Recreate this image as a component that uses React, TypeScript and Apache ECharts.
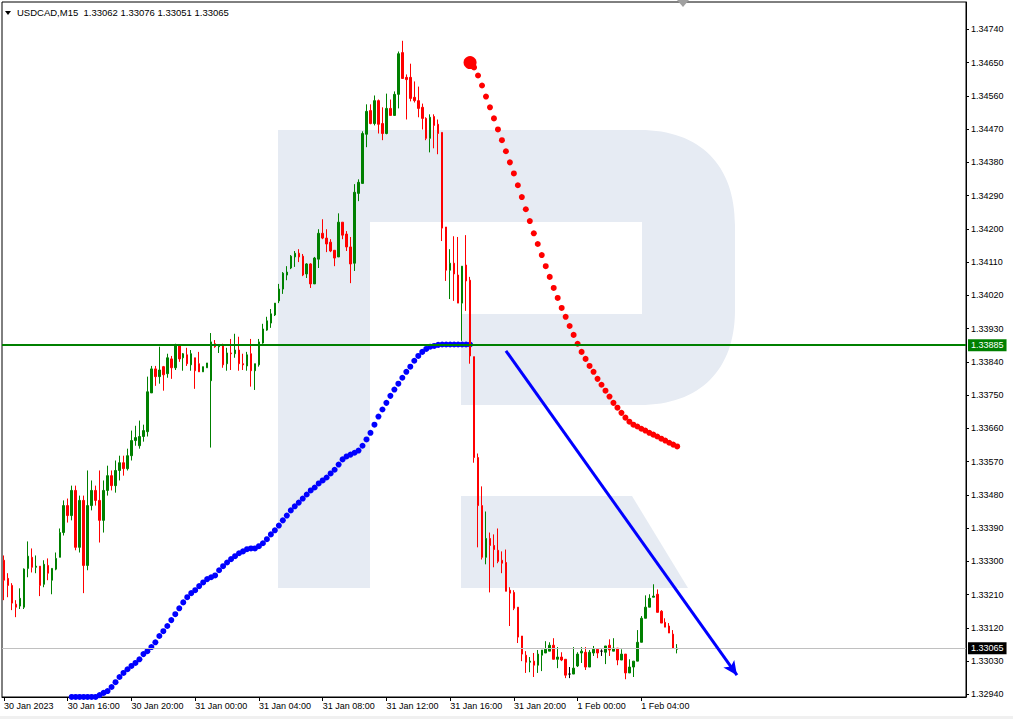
import React, { useEffect, useRef } from 'react';
import * as echarts from 'echarts';

const FONT = '"Liberation Sans", Arial, sans-serif';

const titleText = 'USDCAD,M15  1.33062 1.33076 1.33051 1.33065';

const xTickLabels = [
  '30 Jan 2023', '30 Jan 16:00', '30 Jan 20:00', '31 Jan 00:00', '31 Jan 04:00',
  '31 Jan 08:00', '31 Jan 12:00', '31 Jan 16:00', '31 Jan 20:00', '1 Feb 00:00', '1 Feb 04:00',
];
const barsPerLabel = 16;
const futureSlots = 72;

const yTicks = [
  1.3294, 1.3303, 1.3312, 1.3321, 1.333, 1.3339, 1.3348, 1.3357, 1.3366, 1.3375, 1.3384,
  1.3393, 1.3402, 1.3411, 1.342, 1.3429, 1.3438, 1.3447, 1.3456, 1.3465, 1.3474,
];
const yMin = 1.329329;
const yMax = 1.34814;

// [open, close, low, high]
const candles = [
  [1.33303, 1.33249, 1.33195, 1.33316], [1.33254, 1.33235, 1.33203, 1.33268], [1.33235, 1.33187, 1.33168, 1.33241],
  [1.33184, 1.33176, 1.33149, 1.33195], [1.33179, 1.332, 1.33171, 1.33227], [1.33176, 1.33279, 1.33171, 1.33281],
  [1.33281, 1.33314, 1.33257, 1.33354], [1.33311, 1.33284, 1.3327, 1.33335], [1.33284, 1.33287, 1.33268, 1.33316],
  [1.33287, 1.33235, 1.33206, 1.33287], [1.33238, 1.33292, 1.3323, 1.33303], [1.33289, 1.33268, 1.33249, 1.33308],
  [1.33249, 1.33281, 1.33211, 1.33281], [1.33279, 1.33308, 1.33276, 1.33324], [1.33311, 1.33378, 1.33311, 1.33389],
  [1.33378, 1.33451, 1.3337, 1.33465], [1.33451, 1.33424, 1.33405, 1.3347], [1.33424, 1.33492, 1.33411, 1.33505],
  [1.33492, 1.33338, 1.3333, 1.33505], [1.33338, 1.33465, 1.33324, 1.33478], [1.33465, 1.33289, 1.33214, 1.33478],
  [1.33289, 1.33451, 1.33276, 1.33546], [1.33451, 1.33492, 1.33438, 1.33519], [1.33492, 1.33465, 1.33451, 1.33505],
  [1.33465, 1.33411, 1.33351, 1.33546], [1.33411, 1.33492, 1.33378, 1.33519], [1.33492, 1.33532, 1.33478, 1.33559],
  [1.33532, 1.33505, 1.33492, 1.33546], [1.33505, 1.33546, 1.33486, 1.33573], [1.33546, 1.33567, 1.33519, 1.33586],
  [1.33567, 1.33551, 1.33532, 1.33586], [1.33551, 1.33586, 1.33546, 1.33605], [1.33586, 1.33627, 1.33573, 1.33654],
  [1.33627, 1.33635, 1.33613, 1.33667], [1.33613, 1.33638, 1.33605, 1.33681], [1.33638, 1.33654, 1.33624, 1.3367],
  [1.33651, 1.33759, 1.33638, 1.338], [1.33756, 1.33821, 1.33756, 1.33829], [1.33821, 1.338, 1.33775, 1.33829],
  [1.338, 1.33818, 1.33781, 1.33881], [1.33827, 1.33805, 1.33762, 1.33829], [1.33808, 1.33851, 1.33797, 1.33862],
  [1.33848, 1.33824, 1.33794, 1.33856], [1.33824, 1.33883, 1.33818, 1.33889], [1.33883, 1.33848, 1.3384, 1.33883],
  [1.33851, 1.33862, 1.33816, 1.33864], [1.33859, 1.33835, 1.33829, 1.33878], [1.33832, 1.33862, 1.33816, 1.33872],
  [1.33851, 1.33816, 1.33767, 1.33851], [1.33835, 1.33813, 1.33813, 1.33867], [1.33813, 1.33827, 1.33813, 1.33827],
  [1.33824, 1.33837, 1.33824, 1.33837], [1.33789, 1.33894, 1.33608, 1.33918], [1.33889, 1.33881, 1.33878, 1.33899],
  [1.33881, 1.33883, 1.33864, 1.33883], [1.33883, 1.33832, 1.33824, 1.33889], [1.33835, 1.33864, 1.33816, 1.33878],
  [1.33864, 1.33862, 1.33818, 1.33902], [1.33862, 1.33872, 1.33851, 1.33916], [1.33872, 1.33835, 1.33816, 1.33908],
  [1.33835, 1.33832, 1.33818, 1.33862], [1.33829, 1.33859, 1.33816, 1.33867], [1.33862, 1.33816, 1.33773, 1.33902],
  [1.33816, 1.33835, 1.33764, 1.33835], [1.33832, 1.33894, 1.33827, 1.33902], [1.33891, 1.33929, 1.33889, 1.33943],
  [1.33926, 1.33951, 1.33924, 1.33962], [1.33945, 1.3397, 1.33932, 1.33983], [1.33967, 1.33999, 1.33964, 1.33999],
  [1.34005, 1.34037, 1.33999, 1.34051], [1.34037, 1.3408, 1.34024, 1.34083], [1.34075, 1.34083, 1.34061, 1.34099],
  [1.34094, 1.34126, 1.34091, 1.34129], [1.34124, 1.34134, 1.34097, 1.3414], [1.34134, 1.34124, 1.3411, 1.34145],
  [1.34126, 1.34075, 1.34072, 1.34132], [1.34078, 1.34105, 1.34067, 1.34107], [1.34105, 1.34051, 1.3404, 1.34107],
  [1.34051, 1.34121, 1.34051, 1.34124], [1.34118, 1.34188, 1.34094, 1.34199], [1.34188, 1.34175, 1.34172, 1.34226],
  [1.34175, 1.34159, 1.34137, 1.34199], [1.34164, 1.3414, 1.34137, 1.34172], [1.34142, 1.34121, 1.34099, 1.34142],
  [1.34124, 1.34218, 1.34124, 1.34242], [1.34218, 1.34183, 1.34172, 1.34218], [1.34186, 1.34151, 1.3414, 1.34194],
  [1.34151, 1.34105, 1.34053, 1.34178], [1.34107, 1.34299, 1.34086, 1.34321], [1.34296, 1.34326, 1.34275, 1.34334],
  [1.34323, 1.34458, 1.34323, 1.34464], [1.34456, 1.34518, 1.34421, 1.34537], [1.3452, 1.34485, 1.34483, 1.34537],
  [1.34485, 1.34547, 1.3448, 1.34561], [1.34547, 1.34483, 1.34458, 1.3455], [1.34485, 1.34458, 1.3444, 1.34529],
  [1.34458, 1.34526, 1.34456, 1.34566], [1.34526, 1.34507, 1.34507, 1.3455], [1.34507, 1.34564, 1.34507, 1.34572],
  [1.34564, 1.34674, 1.34526, 1.3468], [1.34677, 1.34607, 1.34607, 1.34709], [1.3461, 1.34604, 1.34496, 1.34618],
  [1.3461, 1.34553, 1.34545, 1.34647], [1.34556, 1.34547, 1.34542, 1.34599], [1.34547, 1.34526, 1.34502, 1.34585],
  [1.34529, 1.34499, 1.34469, 1.34539], [1.34499, 1.34445, 1.3444, 1.34502], [1.34445, 1.34502, 1.34407, 1.3451],
  [1.34504, 1.3448, 1.34418, 1.3451], [1.34483, 1.34458, 1.34402, 1.34496], [1.34461, 1.34202, 1.34167, 1.34461],
  [1.34205, 1.34088, 1.34059, 1.34205], [1.34088, 1.34107, 1.3401, 1.34145], [1.34107, 1.34078, 1.34005, 1.3418],
  [1.34075, 1.33999, 1.33999, 1.34178], [1.33999, 1.34099, 1.33897, 1.34099], [1.34102, 1.34059, 1.33978, 1.34183],
  [1.34061, 1.33856, 1.33835, 1.3407], [1.33854, 1.33581, 1.33567, 1.33854], [1.33581, 1.33451, 1.33338, 1.33592],
  [1.33451, 1.33311, 1.33305, 1.33503], [1.33311, 1.33362, 1.33292, 1.33435], [1.33362, 1.33343, 1.33216, 1.33378],
  [1.33343, 1.33332, 1.33284, 1.33373], [1.3333, 1.333, 1.33295, 1.33389], [1.33303, 1.33295, 1.33268, 1.33327],
  [1.33297, 1.33219, 1.33219, 1.33332], [1.33222, 1.33214, 1.33125, 1.3323], [1.33216, 1.33173, 1.33168, 1.33222],
  [1.33176, 1.33095, 1.33079, 1.33176], [1.33098, 1.33049, 1.3303, 1.33098], [1.33046, 1.33027, 1.32998, 1.33057],
  [1.33027, 1.3303, 1.33, 1.33041], [1.3303, 1.33019, 1.32987, 1.33052], [1.33019, 1.33049, 1.32998, 1.3306],
  [1.33046, 1.3306, 1.33003, 1.3306], [1.33052, 1.33062, 1.33052, 1.33084], [1.33057, 1.33073, 1.33057, 1.33081],
  [1.33073, 1.33035, 1.33035, 1.33092], [1.33035, 1.33041, 1.33011, 1.33068], [1.33041, 1.33033, 1.3303, 1.33054],
  [1.33035, 1.32992, 1.32984, 1.33035], [1.32995, 1.32995, 1.32984, 1.33014], [1.32995, 1.33011, 1.32995, 1.33068],
  [1.33017, 1.33049, 1.33014, 1.33054], [1.33052, 1.33057, 1.33025, 1.33068], [1.33054, 1.33014, 1.33006, 1.33068],
  [1.33014, 1.33054, 1.33014, 1.3306], [1.33052, 1.33062, 1.33044, 1.33071], [1.33062, 1.33052, 1.33038, 1.33062],
  [1.33057, 1.33057, 1.33044, 1.33062], [1.33054, 1.33071, 1.33022, 1.33071], [1.33073, 1.3306, 1.33044, 1.33089],
  [1.33057, 1.33065, 1.33057, 1.33092], [1.33065, 1.33033, 1.33019, 1.33065], [1.33033, 1.33049, 1.33033, 1.33062],
  [1.33049, 1.32998, 1.32981, 1.33049], [1.32998, 1.33014, 1.32998, 1.33035], [1.33014, 1.3303, 1.32987, 1.3303],
  [1.3303, 1.33081, 1.3303, 1.33114], [1.33081, 1.33146, 1.33081, 1.33152], [1.33146, 1.33176, 1.33146, 1.33208],
  [1.33176, 1.332, 1.33176, 1.33211], [1.33203, 1.33206, 1.33203, 1.33238], [1.33211, 1.33162, 1.33162, 1.33224],
  [1.33165, 1.33133, 1.33133, 1.33168], [1.33135, 1.33122, 1.33122, 1.33146], [1.33125, 1.33106, 1.33106, 1.33133],
  [1.33103, 1.33065, 1.33065, 1.33114], [1.33062, 1.33065, 1.33051, 1.33076],
];

const blueStart = 17;
const blueDots = [
  1.32933, 1.32933, 1.32933, 1.32933, 1.32933, 1.32933, 1.32933, 1.32938, 1.32944, 1.32949,
  1.3296, 1.32973, 1.32987, 1.32998, 1.33008, 1.33017, 1.33025, 1.33035, 1.33049, 1.33057,
  1.33068, 1.33081, 1.33098, 1.33111, 1.33125, 1.33141, 1.33157, 1.33173, 1.33189, 1.33203,
  1.33214, 1.33222, 1.33233, 1.33243, 1.33252, 1.33257, 1.33262, 1.33276, 1.33287, 1.33297,
  1.33306, 1.33314, 1.33322, 1.33327, 1.33333, 1.33335, 1.33335, 1.33341, 1.33349, 1.3336,
  1.33373, 1.33384, 1.33397, 1.33411, 1.33424, 1.33438, 1.33449, 1.33459, 1.3347, 1.33481,
  1.33492, 1.335, 1.33511, 1.33519, 1.33527, 1.33538, 1.33548, 1.33562, 1.33576, 1.33584,
  1.33589, 1.33594, 1.336, 1.33613, 1.3363, 1.33648, 1.3367, 1.33692, 1.33711, 1.33729,
  1.33748, 1.33765, 1.33781, 1.33797, 1.33813, 1.33827, 1.33843, 1.33856, 1.33867, 1.33875,
  1.33881, 1.33883, 1.33886, 1.33887, 1.33887, 1.33887, 1.33887, 1.33887, 1.33887, 1.33887,
  1.33887,
];

const redStart = 117;
const redDots = [
  1.3465, 1.34637, 1.34615, 1.34588, 1.34558, 1.34529, 1.34499, 1.34469, 1.3444, 1.3441,
  1.3438, 1.3435, 1.34318, 1.34286, 1.34253, 1.34221, 1.34188, 1.34159, 1.34129, 1.34099,
  1.3407, 1.3404, 1.34013, 1.33986, 1.33962, 1.33937, 1.33913, 1.33889, 1.33867, 1.33848,
  1.33829, 1.33813, 1.33794, 1.33778, 1.33762, 1.33746, 1.33729, 1.33716, 1.33702, 1.33689,
  1.33678, 1.3367, 1.33665, 1.33659, 1.33654, 1.33648, 1.33643, 1.33638, 1.33632, 1.33627,
  1.33621, 1.33616, 1.33611,
];

const levelLine = 1.33885;
const lastPrice = 1.33065;
const arrowStart = [126, 1.3387];
const arrowEnd = [184, 1.32992];

const R_PATH =
  'M278 130 H640 C700 130 735 165 735 225 V310 C735 370 700 405 640 405 H461 V314 H642 V222 H370 V588 H278 Z';

let registered = false;
function ensureShape() {
  if (registered) return;
  echarts.graphic.registerShape('rlogo', echarts.graphic.extendPath(R_PATH, {}) as any);
  registered = true;
}

export default function App() {
  const ref = useRef<HTMLDivElement>(null);

  useEffect(() => {
    if (!ref.current) return;
    ensureShape();
    const chart = echarts.init(ref.current, undefined, { renderer: 'svg' });
    const categories = Array.from({ length: candles.length + futureSlots }, (_, i) => String(i));
    const lastLabelIdx = (xTickLabels.length - 1) * barsPerLabel;
    const showIdx = (i: number) => i % barsPerLabel === 0 && i <= lastLabelIdx;

    const priceLabel = (bg: string, val: number) => ({
      show: true,
      position: 'end',
      distance: 2,
      formatter: () => val.toFixed(5),
      backgroundColor: bg,
      color: '#ffffff',
      padding: [2, 3, 1, 3],
      fontSize: 9,
      fontFamily: FONT,
    });

    const option: any = {
      animation: false,
      backgroundColor: '#ffffff',
      textStyle: { fontFamily: FONT },
      title: {
        text: titleText,
        left: 17,
        top: 7,
        padding: 0,
        textStyle: { fontSize: 9.5, fontWeight: 'normal', color: '#000', fontFamily: FONT },
      },
      grid: {
        left: 2,
        right: 47,
        top: 2,
        bottom: 22,
        show: true,
        borderColor: '#000',
        borderWidth: 1,
        backgroundColor: 'transparent',
        outerBoundsMode: 'none',
      },
      xAxis: {
        type: 'category',
        data: categories,
        boundaryGap: true,
        axisLine: { show: true, lineStyle: { color: '#000', width: 1 } },
        axisTick: {
          show: true,
          alignWithLabel: true,
          length: 4,
          interval: (i: number) => showIdx(i),
          lineStyle: { color: '#000' },
        },
        axisLabel: {
          show: true,
          interval: (i: number) => showIdx(i),
          formatter: (_v: string, i: number) => (showIdx(i) ? xTickLabels[i / barsPerLabel] : ''),
          align: 'left',
          margin: 4,
          fontSize: 9,
          color: '#000',
          fontFamily: FONT,
        },
        splitLine: { show: false },
      },
      yAxis: {
        type: 'value',
        position: 'right',
        min: yMin,
        max: yMax,
        axisLine: { show: true, lineStyle: { color: '#000' } },
        axisTick: { show: true, length: 3, customValues: yTicks, lineStyle: { color: '#000' } },
        axisLabel: {
          customValues: yTicks,
          formatter: (v: number) => v.toFixed(5),
          fontSize: 9,
          color: '#000',
          margin: 5,
          fontFamily: FONT,
        },
        splitLine: { show: false },
      },
      graphic: {
        elements: [
          { type: 'rlogo', x: 0, y: 0, z: -10, silent: true, style: { fill: '#e6ebf3' } },
          {
            type: 'polygon',
            z: -10,
            silent: true,
            shape: { points: [[461, 496], [632, 496], [688, 588], [461, 588]] },
            style: { fill: '#e6ebf3' },
          },
          {
            type: 'polygon',
            silent: true,
            shape: { points: [[5, 11], [11, 11], [8, 15]] },
            style: { fill: '#000' },
          },
          {
            type: 'polygon',
            silent: true,
            shape: { points: [[677, 0], [689, 0], [683, 7]] },
            style: { fill: '#a0a0a0' },
          },
          { type: 'rect', silent: true, shape: { x: 0, y: 716, width: 1013, height: 3 }, style: { fill: '#f0f0f0' } },
        ],
      },
      series: [
        {
          type: 'scatter',
          name: 'blue',
          z: 1,
          clip: false,
          symbol: 'circle',
          symbolSize: 6,
          itemStyle: { color: '#0000ff', opacity: 1 },
          data: blueDots.map((v, k) => [blueStart + k, v]),
        },
        {
          type: 'candlestick',
          name: 'USDCAD',
          z: 2,
          barWidth: 2,
          itemStyle: {
            color: '#008000',
            color0: '#ff0000',
            borderColor: '#008000',
            borderColor0: '#ff0000',
            borderColorDoji: '#000000',
            borderWidth: 1,
          },
          data: candles,
        },
        {
          type: 'scatter',
          name: 'red',
          z: 3,
          clip: false,
          symbol: 'circle',
          symbolSize: (_v: any, p: any) => (p.dataIndex === 0 ? 13 : 6),
          itemStyle: { color: '#ff0000', opacity: 1 },
          data: redDots.map((v, k) => [redStart + k, v]),
          markLine: {
            silent: true,
            animation: false,
            precision: 5,
            symbol: ['none', 'none'],
            data: [
              {
                yAxis: levelLine,
                lineStyle: { color: '#008000', width: 2, type: 'solid' },
                label: priceLabel('#008000', levelLine),
              },
              {
                yAxis: lastPrice,
                lineStyle: { color: '#c0c0c0', width: 1, type: 'solid' },
                label: priceLabel('#000000', lastPrice),
              },
              [
                {
                  coord: arrowStart,
                  symbol: 'none',
                  lineStyle: { color: '#0000ff', width: 3, type: 'solid' },
                  label: { show: false },
                },
                { coord: arrowEnd, symbol: 'arrow', symbolSize: [10, 14] },
              ],
            ],
          },
        },
      ],
    };

    chart.setOption(option);
    return () => chart.dispose();
  }, []);

  return (
    <div
      ref={ref}
      style={{ position: 'fixed', left: 0, top: 0, width: 1013, height: 719, background: '#fff' }}
    />
  );
}
